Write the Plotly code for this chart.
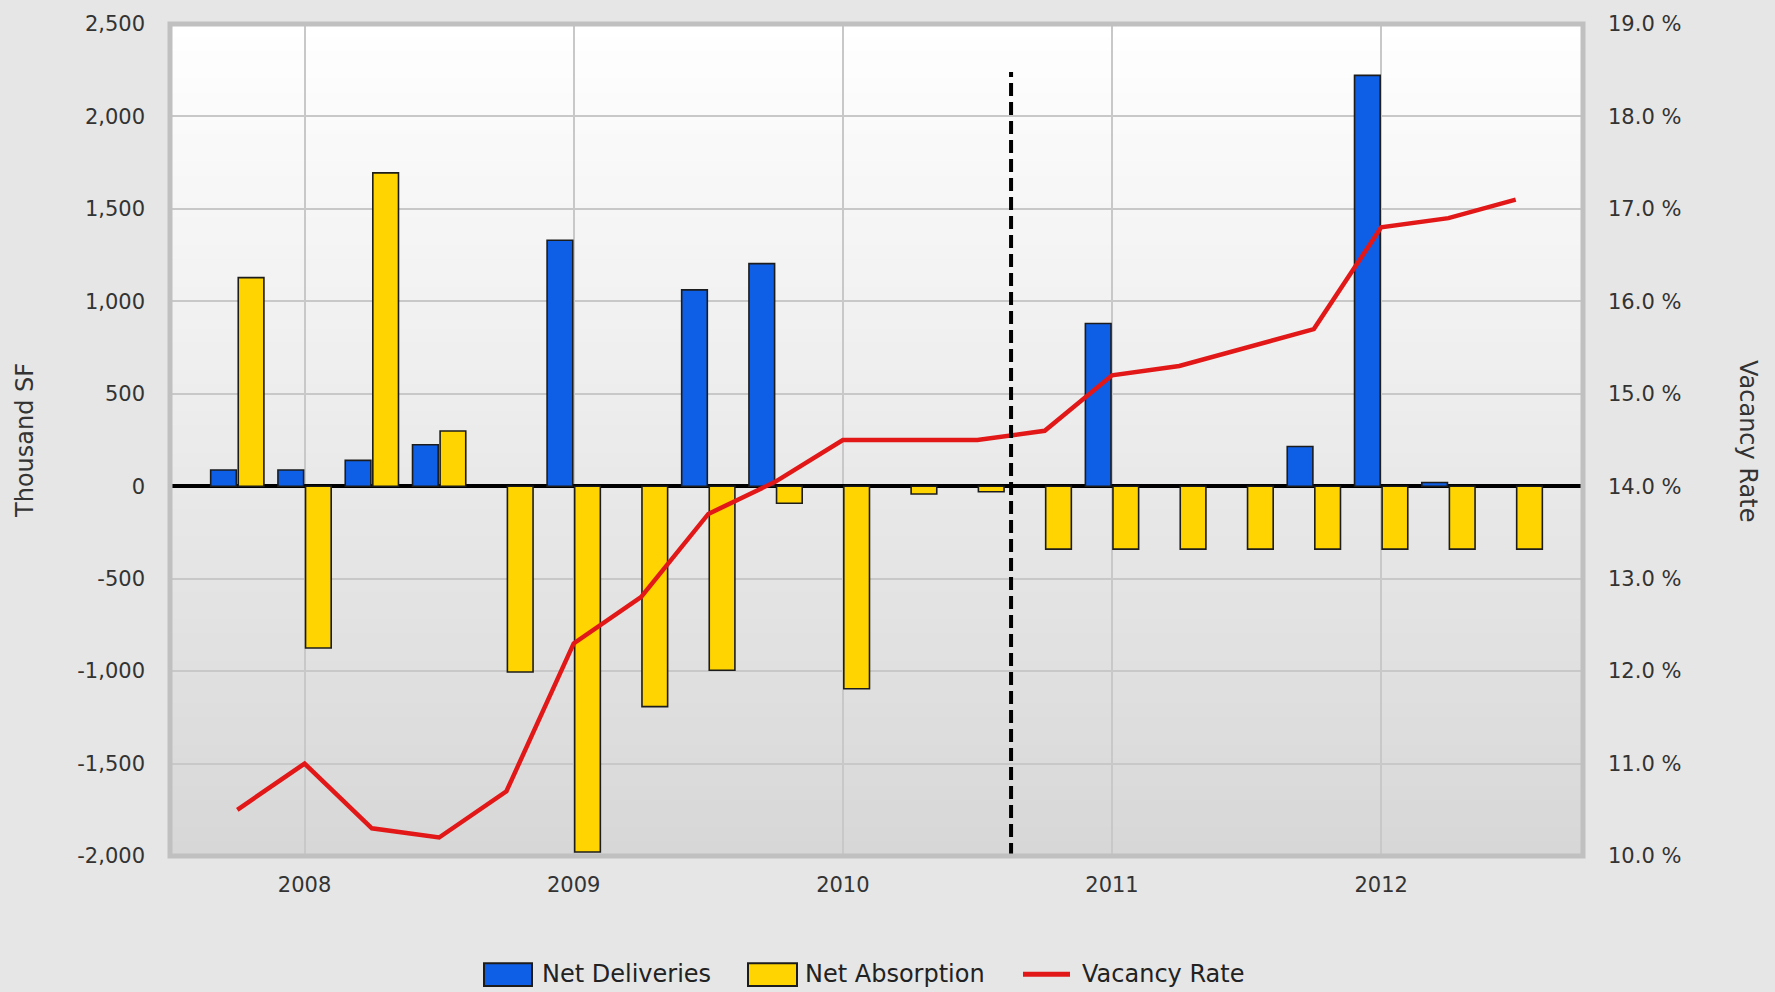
import plotly.graph_objects as go

# ---------------- data ----------------
quarters = ["2007 Q4",
            "2008 Q1", "2008 Q2", "2008 Q3", "2008 Q4",
            "2009 Q1", "2009 Q2", "2009 Q3", "2009 Q4",
            "2010 Q1", "2010 Q2", "2010 Q3", "2010 Q4",
            "2011 Q1", "2011 Q2", "2011 Q3", "2011 Q4",
            "2012 Q1", "2012 Q2", "2012 Q3"]
year_tick_quarters = ["2008 Q1", "2009 Q1", "2010 Q1", "2011 Q1", "2012 Q1"]
year_labels = ["2008", "2009", "2010", "2011", "2012"]

net_deliveries = [88, 88, 140, 224, None, 1330, None, 1062, 1204, None, None, None,
                  None, 880, None, None, 215, 2222, 20, None]
net_absorption = [1128, -875, 1695, 299, -1005, -1978, -1192, -995, -92, -1095, -42, -30,
                  -340, -340, -340, -340, -340, -340, -340, -340]
vacancy_rate = [10.5, 11.0, 10.3, 10.2, 10.7, 12.3, 12.8, 13.7, 14.05, 14.5, 14.5, 14.5,
                14.6, 15.2, 15.3, 15.5, 15.7, 16.8, 16.9, 17.1]

series_names = ["Net Deliveries", "Net Absorption", "Vacancy Rate"]
forecast_split = 11.5          # between 2010 Q3 and 2010 Q4 (category index)
forecast_line_top = 2240       # in Thousand SF units

left_ticks = [-2000, -1500, -1000, -500, 0, 500, 1000, 1500, 2000, 2500]
left_tick_text = [f"{v:,}" for v in left_ticks]
right_ticks = [10, 11, 12, 13, 14, 15, 16, 17, 18, 19]
right_tick_text = [f"{v:.1f} %" for v in right_ticks]

# ---------------- style ----------------
W, H = 1775, 992
ML, MR, MT, MB = 170, 192, 18, 136
PW, PH = W - ML - MR, H - MT - MB
FONT = "DejaVu Sans"
BLUE = "#0f5fe6"
YELLOW = "#ffd400"
RED = "#e21818"
EDGE = "#1c1c1c"
TXT = "#333333"


def px(x):
    return (x - ML) / PW


def py(y):
    return (H - MB - y) / PH


fig = go.Figure()

fig.add_trace(go.Bar(x=quarters, y=net_deliveries, name=series_names[0],
                     marker=dict(color=BLUE, line=dict(color=EDGE, width=1.6)),
                     yaxis="y"))
fig.add_trace(go.Bar(x=quarters, y=net_absorption, name=series_names[1],
                     marker=dict(color=YELLOW, line=dict(color=EDGE, width=1.6)),
                     yaxis="y"))
fig.add_trace(go.Scatter(x=quarters, y=vacancy_rate, name=series_names[2],
                         mode="lines", line=dict(color=RED, width=4.5),
                         yaxis="y2"))

shapes = []
# vertical gradient background of plot area (white -> light gray)
N = 60
for i in range(N):
    t = (i + 0.5) / N  # 0 top -> 1 bottom
    v = int(round(255 - 40 * t))
    shapes.append(dict(type="rect", xref="paper", yref="paper",
                       x0=0, x1=1, y0=1 - (i + 1) / N, y1=1 - i / N + 0.001,
                       fillcolor=f"rgb({v},{v},{v})", line=dict(width=0),
                       layer="below"))

# forecast divider
shapes.append(dict(type="line", xref="x", yref="y",
                   x0=forecast_split, x1=forecast_split,
                   y0=left_ticks[0], y1=forecast_line_top,
                   line=dict(color="black", width=4, dash="13px,6px"),
                   layer="above"))

# plot frame
shapes.append(dict(type="rect", xref="paper", yref="paper", x0=0, x1=1, y0=0, y1=1,
                   line=dict(color="#c0c0c0", width=5), fillcolor="rgba(0,0,0,0)",
                   layer="above"))

# custom legend
shapes.append(dict(type="rect", xref="paper", yref="paper",
                   x0=px(484), x1=px(532), y0=py(987), y1=py(964),
                   fillcolor=BLUE, line=dict(color=EDGE, width=2)))
shapes.append(dict(type="rect", xref="paper", yref="paper",
                   x0=px(748), x1=px(797), y0=py(987), y1=py(964),
                   fillcolor=YELLOW, line=dict(color=EDGE, width=2)))
shapes.append(dict(type="line", xref="paper", yref="paper",
                   x0=px(1023), x1=px(1070), y0=py(975), y1=py(975),
                   line=dict(color=RED, width=5)))

annotations = [
    dict(text=series_names[0], xref="paper", yref="paper", x=px(540), y=py(975),
         xanchor="left", yanchor="middle", showarrow=False,
         font=dict(family=FONT, size=24, color="#222222")),
    dict(text=series_names[1], xref="paper", yref="paper", x=px(803), y=py(975),
         xanchor="left", yanchor="middle", showarrow=False,
         font=dict(family=FONT, size=24, color="#222222")),
    dict(text=series_names[2], xref="paper", yref="paper", x=px(1080), y=py(975),
         xanchor="left", yanchor="middle", showarrow=False,
         font=dict(family=FONT, size=24, color="#222222")),
    dict(text="Thousand SF", xref="paper", yref="paper", x=px(25), y=py(438),
         xanchor="center", yanchor="middle", showarrow=False, textangle=-90,
         font=dict(family=FONT, size=24, color=TXT)),
    dict(text="Vacancy Rate", xref="paper", yref="paper", x=px(1748), y=py(438),
         xanchor="center", yanchor="middle", showarrow=False, textangle=90,
         font=dict(family=FONT, size=24, color=TXT)),
]

fig.update_layout(
    width=W, height=H, autosize=False,
    margin=dict(l=ML, r=MR, t=MT, b=MB, pad=0),
    paper_bgcolor="#e6e6e6", plot_bgcolor="#ffffff",
    barmode="group", bargap=0.18, bargroupgap=0.07,
    showlegend=False,
    font=dict(family=FONT, size=21, color=TXT),
    shapes=shapes, annotations=annotations,
    xaxis=dict(type="category", categoryorder="array", categoryarray=quarters,
               range=[-1, len(quarters)], tickvals=year_tick_quarters,
               ticktext=year_labels, showgrid=True, gridcolor="#c8c8c8",
               gridwidth=1.5, ticks="", showline=False, zeroline=False,
               ticklabelstandoff=14, tickfont=dict(size=21, color=TXT),
               fixedrange=True),
    yaxis=dict(range=[left_ticks[0], left_ticks[-1]], tickvals=left_ticks,
               ticktext=left_tick_text, showgrid=True, gridcolor="#c8c8c8",
               gridwidth=2, zeroline=True, zerolinecolor="black", zerolinewidth=4,
               ticks="", showline=False, ticklabelstandoff=24,
               tickfont=dict(size=21, color=TXT), fixedrange=True),
    yaxis2=dict(range=[right_ticks[0], right_ticks[-1]], tickvals=right_ticks,
                ticktext=right_tick_text, overlaying="y", side="right",
                showgrid=False, zeroline=False, ticks="", showline=False,
                ticklabelstandoff=24, tickfont=dict(size=21, color=TXT),
                fixedrange=True),
)

fig.write_html("out.html", config={"displayModeBar": False})
